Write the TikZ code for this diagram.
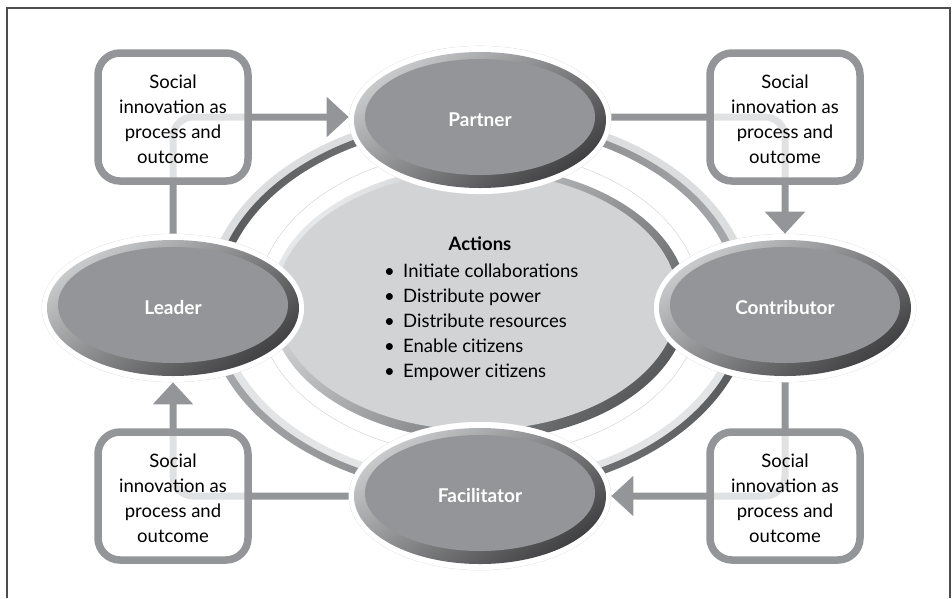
\documentclass[tikz,border=0pt]{standalone}
\usepackage{fontspec}
\setmainfont{Lato}
\usetikzlibrary{arrows.meta,shapes.geometric}
\definecolor{midgray}{HTML}{939598}
\definecolor{lightfill}{HTML}{D1D3D4}
\definecolor{darkbev}{HTML}{404042}
\definecolor{lightbev}{HTML}{C9CACC}
\definecolor{framec}{HTML}{4D4D4F}
\definecolor{ringlight}{HTML}{DCDDDE}
\definecolor{ringpale}{HTML}{E3E4E5}
\definecolor{ringdark}{HTML}{58595B}
\definecolor{ringmid}{HTML}{A7A9AC}
\definecolor{cbevlight}{HTML}{E6E7E8}
\definecolor{cbevdark}{HTML}{5A5B5D}
\begin{document}
\begin{tikzpicture}[x=1pt,y=-1pt,
  conn/.style={draw=midgray, line width=7pt, rounded corners=20pt,
    -{Triangle[length=22pt,width=39pt]}},
  infobox/.style={draw=midgray, line width=7.5pt, fill=white, fill opacity=0.72,
    rounded corners=22pt, minimum width=150pt, minimum height=128pt, inner sep=0pt},
  boxtext/.style={align=center, font=\fontsize{18.5}{25}\selectfont, inner sep=0pt},
  rolenode/.style={ellipse, fill=white, draw=black!15, line width=0.6pt,
    minimum width=262pt, minimum height=148pt, inner sep=0pt},
  roletext/.style={text=white, font=\fontsize{19}{23}\selectfont\bfseries, inner sep=0pt},
  acttext/.style={font=\fontsize{18.5}{25}\selectfont, inner sep=0pt, anchor=base west}
]
\useasboundingbox (0,0) rectangle (952,598);
% frame
\draw[framec, line width=2pt] (7,598) -- (7,8) -- (949.5,8) -- (949.5,598);

% ring, upper half
\begin{scope}
  \clip (0,0) rectangle (952,303);
  \fill[ringlight] (479,303) ellipse [x radius=274pt, y radius=192pt];
  \shade[left color=ringdark, right color=ringmid] (479,303) ellipse [x radius=266pt, y radius=185pt];
  \fill[white] (479,303) ellipse [x radius=258pt, y radius=178pt];
\end{scope}
% ring, lower half
\begin{scope}
  \clip (0,303) rectangle (952,598);
  \shade[left color=ringmid, right color=ringdark] (479,303) ellipse [x radius=274pt, y radius=192pt];
  \fill[ringpale] (479,303) ellipse [x radius=266pt, y radius=185pt];
  \fill[white] (479,303) ellipse [x radius=258pt, y radius=178pt];
\end{scope}

% central ellipse
\draw[black!16, line width=0.5pt] (479,303) ellipse [x radius=222pt, y radius=153pt];
\node[ellipse, minimum width=418pt, minimum height=274pt, inner sep=0pt] (core) at (479,303) {};
\shade[top color=cbevlight, bottom color=cbevdark, shading angle=45] (core.center) ellipse [x radius=209pt, y radius=137pt];
\fill[lightfill] ([shift={(-2,-2)}]core.center) ellipse [x radius=201pt, y radius=129pt];

\node[font=\fontsize{18.5}{25}\selectfont\bfseries, inner sep=0pt, anchor=base] (acttitle) at (480,250.7) {Actions};
\foreach \i/\t in {0/Initiate collaborations,1/Distribute power,2/Distribute resources,3/Enable citizens,4/Empower citizens}{
  \node[acttext] (act\i) at (384,{277.3+25*\i}) {\makebox[19pt][l]{\textbullet}\t};
}

% role ellipses (positions)
\node[rolenode] (partner) at (480,120) {};
\node[rolenode] (leader) at (173,308) {};
\node[rolenode] (contributor) at (785,308) {};
\node[rolenode] (facilitator) at (480,496) {};

% connectors (under the boxes)
\draw[conn] (leader.north) |- ([yshift=3pt]partner.west);
\draw[conn] ([yshift=3pt]partner.east) -| (contributor.north);
\draw[conn] (contributor.south) |- (facilitator.east);
\draw[conn] (facilitator.west) -| (leader.south);

% redraw role ellipses on top of connector ends
\foreach \n/\lab in {partner/Partner,leader/Leader,contributor/Contributor,facilitator/Facilitator}{
  \fill[white] (\n.center) ellipse [x radius=131pt, y radius=74pt];
  \shade[top color=lightbev, bottom color=darkbev, shading angle=35] (\n.center) ellipse [x radius=126pt, y radius=68pt];
  \fill[midgray] ([shift={(0,-3)}]\n.center) ellipse [x radius=115pt, y radius=58pt];
  \node[roletext] (\n label) at (\n.center) {\lab};
}

% info boxes
\foreach \n/\x/\y in {tl/173/117, tr/785/117, bl/173/496, br/785/496}{
  \node[infobox] (\n) at (\x,\y) {};
  \node[boxtext] (\n text) at ([yshift=-2pt]\n.center) {Social\\innovation as\\process and\\outcome};
}
\end{tikzpicture}
\end{document}
